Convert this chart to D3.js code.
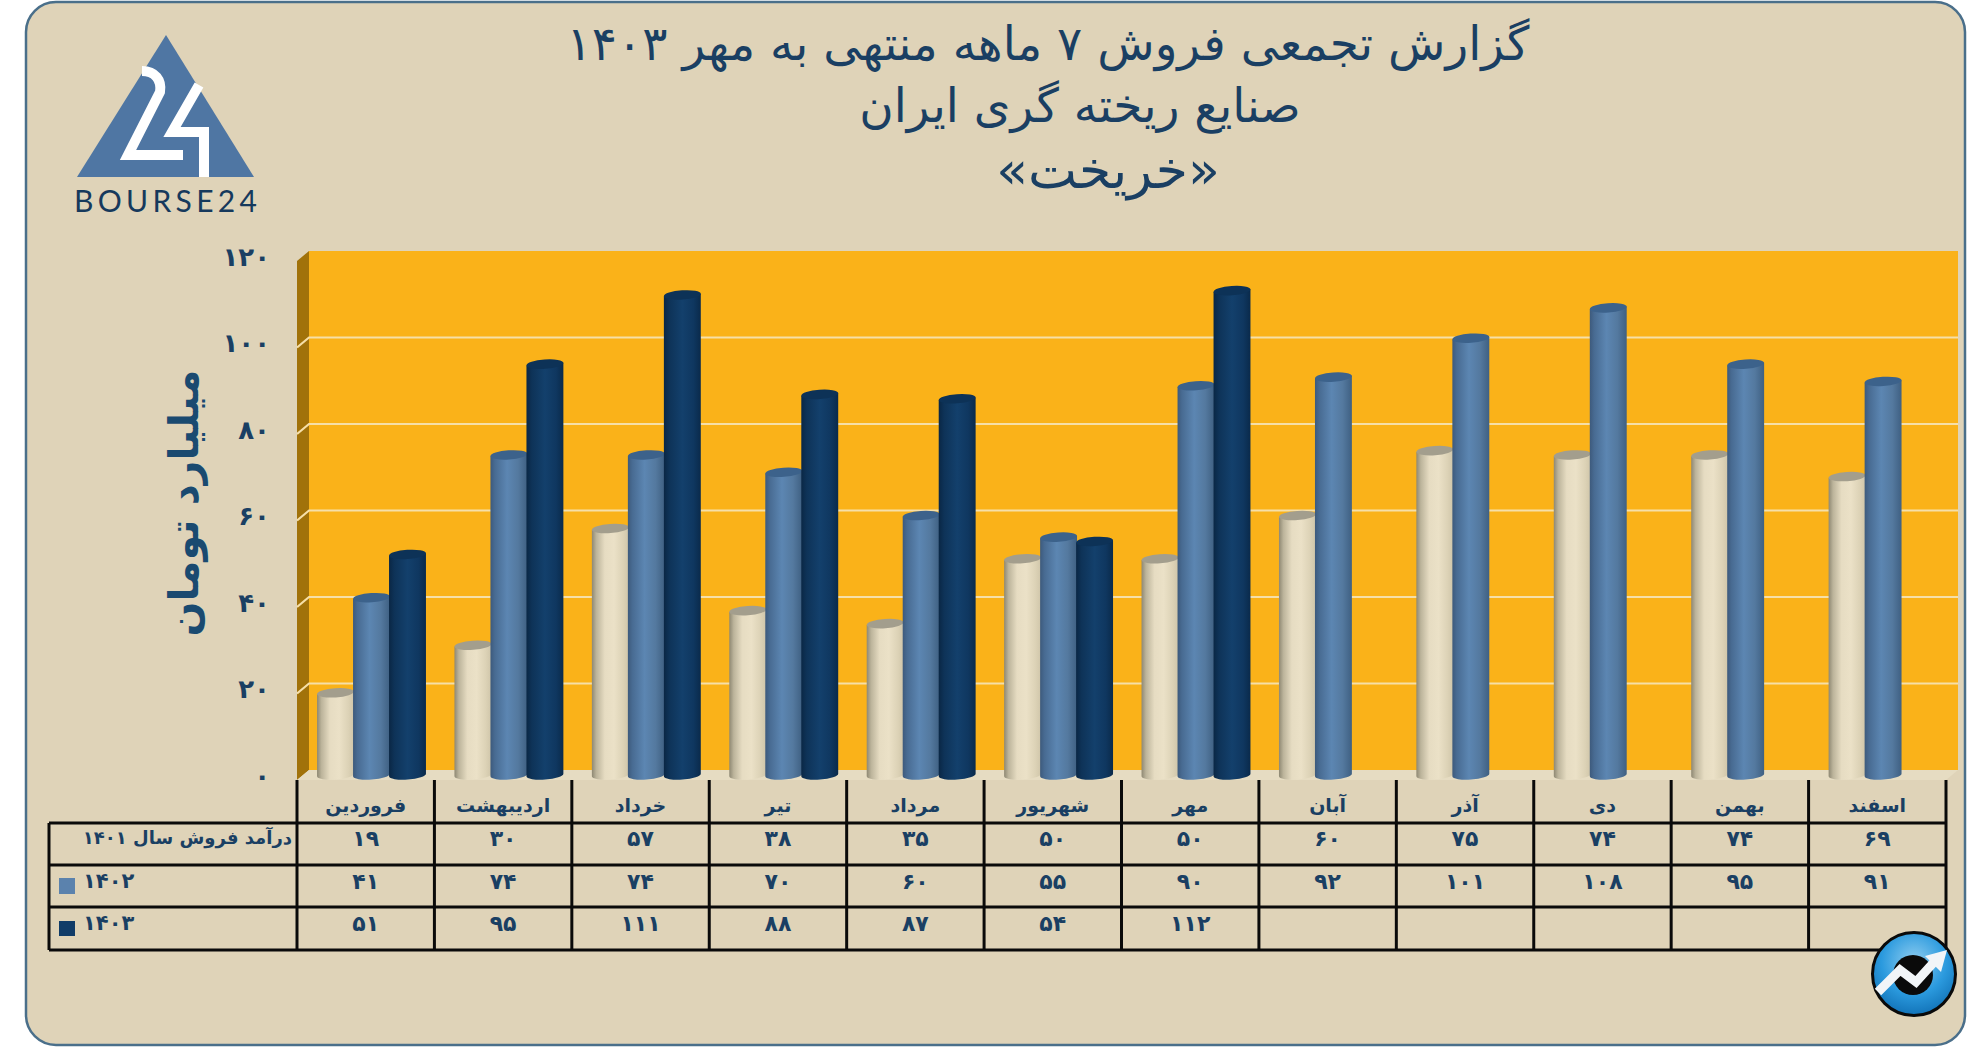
<!DOCTYPE html>
<html lang="fa">
<head>
<meta charset="utf-8">
<script src="https://cdn.jsdelivr.net/npm/d3@7"></script>
<style>
  html, body { margin: 0; padding: 0; background: #fff; }
  svg { display: block; }
  text { font-family: "DejaVu Sans", "Noto Sans", sans-serif; fill: #1a3f63; }
  .domain, .tick line { display: none; }
</style>
</head>
<body>
<div id="chart"></div>
<script>
const months = ['فروردین', 'اردیبهشت', 'خرداد', 'تیر', 'مرداد', 'شهریور', 'مهر', 'آبان', 'آذر', 'دی', 'بهمن', 'اسفند'];
const sales1401 = [19, 30, 57, 38, 35, 50, 50, 60, 75, 74, 74, 69];
const sales1402 = [41, 74, 74, 70, 60, 55, 90, 92, 101, 108, 95, 91];
const sales1403 = [51, 95, 111, 88, 87, 54, 112];
const rowLabels = ['درآمد فروش سال ۱۴۰۱', '۱۴۰۲', '۱۴۰۳'];
const yTicks = [0, 20, 40, 60, 80, 100, 120];
const titleLines = ['گزارش تجمعی فروش ۷ ماهه منتهی به مهر ۱۴۰۳', 'صنایع ریخته گری ایران', '«خریخت»'];
const yTitle = 'میلیارد تومان';

const W = 1986, H = 1047;
const svg = d3.select('#chart').append('svg').attr('width', W).attr('height', H);
const defs = svg.append('defs');

const toFa = n => String(n).replace(/\d/g, d => '۰۱۲۳۴۵۶۷۸۹'[d]);

// panel
svg.append('rect').attr('x', 26).attr('y', 2).attr('width', 1939).attr('height', 1043).attr('rx', 30)
  .attr('fill', '#dfd3b8').attr('stroke', '#4a6f8a').attr('stroke-width', 2.5);

// scales
const wallLeft = 309, wallRight = 1958, depthX = 12, depthY = 10;
const y = d3.scaleLinear().domain([0, 120]).range([770, 251]);
const x = d3.scaleBand().domain(months).range([297, 1946]);
const barW = 37;

// walls
const plot = svg.append('g');
plot.append('rect').attr('x', wallLeft).attr('y', y(120)).attr('width', wallRight - wallLeft).attr('height', y(0) - y(120)).attr('fill', '#fab219');
plot.append('polygon').attr('fill', '#a1720a')
  .attr('points', [[wallLeft - depthX, y(120) + depthY], [wallLeft, y(120)], [wallLeft, y(0)], [wallLeft - depthX, y(0) + depthY]].join(' '));
plot.append('polygon').attr('fill', '#e6dcc2')
  .attr('points', [[wallLeft - depthX, y(0) + depthY], [wallLeft, y(0)], [wallRight, y(0)], [wallRight - depthX, y(0) + depthY]].join(' '));

// grid
yTicks.filter(t => t > 0 && t < 120).forEach(t => {
  plot.append('path').attr('fill', 'none').attr('stroke', '#f6dfa8').attr('stroke-width', 2.2)
    .attr('d', `M${wallLeft - depthX},${y(t) + depthY}L${wallLeft},${y(t)}L${wallRight},${y(t)}`);
});

// y axis labels
svg.append('g').attr('transform', 'translate(273,5)')
  .call(d3.axisLeft(y).tickValues(yTicks).tickFormat(toFa).tickSize(0))
  .call(g => g.selectAll('text').attr('font-size', 26).attr('font-weight', 'bold').attr('dy', '0.35em'));

// gradient for a cylinder side
function gradient(id, stops) {
  const g = defs.append('linearGradient').attr('id', id);
  stops.forEach(s => g.append('stop').attr('offset', s[0]).attr('stop-color', s[1]));
}
gradient('gTan', [[0, '#8e8873'], [0.12, '#bcb49b'], [0.35, '#e6dcc2'], [0.6, '#ebe1c7'], [0.85, '#dcd2b6'], [1, '#cfc5a9']]);
gradient('gBlue', [[0, '#3d5a7c'], [0.12, '#486b92'], [0.45, '#5c86b2'], [0.75, '#54799f'], [1, '#3f6082']]);
gradient('gNavy', [[0, '#0a2745'], [0.15, '#0e3358'], [0.5, '#13406c'], [0.8, '#0f3760'], [1, '#0a2a4b']]);

const seriesList = [
  { values: sales1401, fill: 'url(#gTan)', cap: '#a39e8d', offset: 0 },
  { values: sales1402, fill: 'url(#gBlue)', cap: '#3c628b', offset: 1 },
  { values: sales1403, fill: 'url(#gNavy)', cap: '#0d3257', offset: 2 }
];

// cylinders sit half way into the depth
const rx = barW / 2, ry = 4.6, tilt = -4;
const tx = rx * Math.cos(tilt * Math.PI / 180), ty = rx * Math.sin(tilt * Math.PI / 180);
seriesList.forEach(s => {
  const g = svg.append('g');
  s.values.forEach((v, i) => {
    const cx = x(months[i]) + 20 + s.offset * 36 + rx;
    const top = y(v) + 5, base = y(0) + 5;
    g.append('path').attr('fill', s.fill)
      .attr('d', `M${cx - tx},${top - ty}L${cx - tx},${base - ty}A${rx},${ry} ${tilt} 0 0 ${cx + tx},${base + ty}L${cx + tx},${top + ty}Z`);
    g.append('ellipse').attr('cx', cx).attr('cy', top).attr('rx', rx).attr('ry', ry)
      .attr('transform', `rotate(${tilt} ${cx} ${top})`).attr('fill', s.cap);
  });
});

// data table
const rowY = [823, 865, 907, 950];
const table = svg.append('g').attr('stroke', '#0a0a0a').attr('stroke-width', 3);
rowY.forEach(r => table.append('line').attr('x1', 49).attr('x2', 1946).attr('y1', r).attr('y2', r));
table.append('line').attr('x1', 49).attr('x2', 49).attr('y1', rowY[0]).attr('y2', rowY[3]);
months.forEach(m => table.append('line').attr('x1', x(m)).attr('x2', x(m)).attr('y1', 780).attr('y2', rowY[3]));
table.append('line').attr('x1', 1946).attr('x2', 1946).attr('y1', 780).attr('y2', rowY[3]);

svg.append('g').selectAll('text').data(months).join('text')
  .attr('x', m => x(m) + x.bandwidth() / 2).attr('y', 805).attr('dy', '0.35em')
  .attr('text-anchor', 'middle').attr('direction', 'rtl')
  .attr('font-size', 19).attr('font-weight', 'bold').text(m => m);

const valueY = [838, 881, 923];
seriesList.forEach((s, r) => {
  svg.append('g').selectAll('text').data(s.values).join('text')
    .attr('x', (v, i) => x(months[i]) + x.bandwidth() / 2).attr('y', valueY[r]).attr('dy', '0.35em')
    .attr('text-anchor', 'middle').attr('font-size', 22).attr('font-weight', 'bold').text(v => toFa(v));
});

// row headers and legend keys
svg.append('text').attr('x', 292).attr('y', valueY[0]).attr('dy', '0.35em').attr('direction', 'rtl')
  .attr('font-size', 18).attr('font-weight', 'bold').text(rowLabels[0]);
[1, 2].forEach(r => {
  svg.append('text').attr('x', 83).attr('y', valueY[r]).attr('dy', '0.35em')
    .attr('font-size', 21).attr('font-weight', 'bold').text(rowLabels[r]);
});
svg.append('rect').attr('x', 59).attr('y', 878).attr('width', 16).attr('height', 16).attr('fill', '#5b82ad');
svg.append('rect').attr('x', 59).attr('y', 921).attr('width', 16).attr('height', 15).attr('fill', '#103c68');

// titles
const titlePos = [[1048, 44], [1080, 106], [1108, 170]];
const titleSize = [47, 47, 52];
titleLines.forEach((t, i) => {
  svg.append('text').attr('x', titlePos[i][0]).attr('y', titlePos[i][1]).attr('dy', '0.35em')
    .attr('text-anchor', 'middle').attr('direction', 'rtl')
    .attr('font-size', titleSize[i]).text(t);
});
svg.append('text').attr('transform', 'translate(184,503) rotate(-90)').attr('dy', '0.35em')
  .attr('text-anchor', 'middle').attr('direction', 'rtl')
  .attr('font-size', 41).attr('font-weight', 'bold').attr('style', 'fill:#1a4a70').text(yTitle);

// logo
const logo = svg.append('g');
logo.append('polygon').attr('points', '166,35 254,177 77,177').attr('fill', '#4f76a3');
logo.append('path').attr('fill', 'none').attr('stroke', '#fff').attr('stroke-width', 10)
  .attr('d', 'M142,71C155,71 162,80 160,92L128,155L183,155');
logo.append('path').attr('fill', 'none').attr('stroke', '#fff').attr('stroke-width', 10)
  .attr('d', 'M199,85L172,132L204,132L204,177');
logo.append('text').attr('x', 74).attr('y', 212).attr('font-size', 30).attr('textLength', 183)
  .attr('lengthAdjust', 'spacing').attr('style', 'font-family:Lato,sans-serif;fill:#16395c').text('BOURSE24');

// corner badge
const radial = defs.append('radialGradient').attr('id', 'gBadge').attr('cx', '50%').attr('cy', '35%').attr('r', '65%');
radial.append('stop').attr('offset', 0).attr('stop-color', '#8fcdf0');
radial.append('stop').attr('offset', 0.6).attr('stop-color', '#2b9ade');
radial.append('stop').attr('offset', 1).attr('stop-color', '#1273b8');
const badge = svg.append('g');
badge.append('circle').attr('cx', 1914).attr('cy', 974).attr('r', 41.5).attr('fill', 'url(#gBadge)').attr('stroke', '#0a0a0a').attr('stroke-width', 3);
badge.append('circle').attr('cx', 1913).attr('cy', 975).attr('r', 20).attr('fill', '#0a0a0a');
badge.append('path').attr('fill', 'none').attr('stroke', '#f2f5f8').attr('stroke-width', 9)
  .attr('d', 'M1878,992L1900,970L1916,982L1935,961');
badge.append('polygon').attr('fill', '#f2f5f8').attr('points', '1947,950 1925,956 1941,972');
</script>
</body>
</html>
